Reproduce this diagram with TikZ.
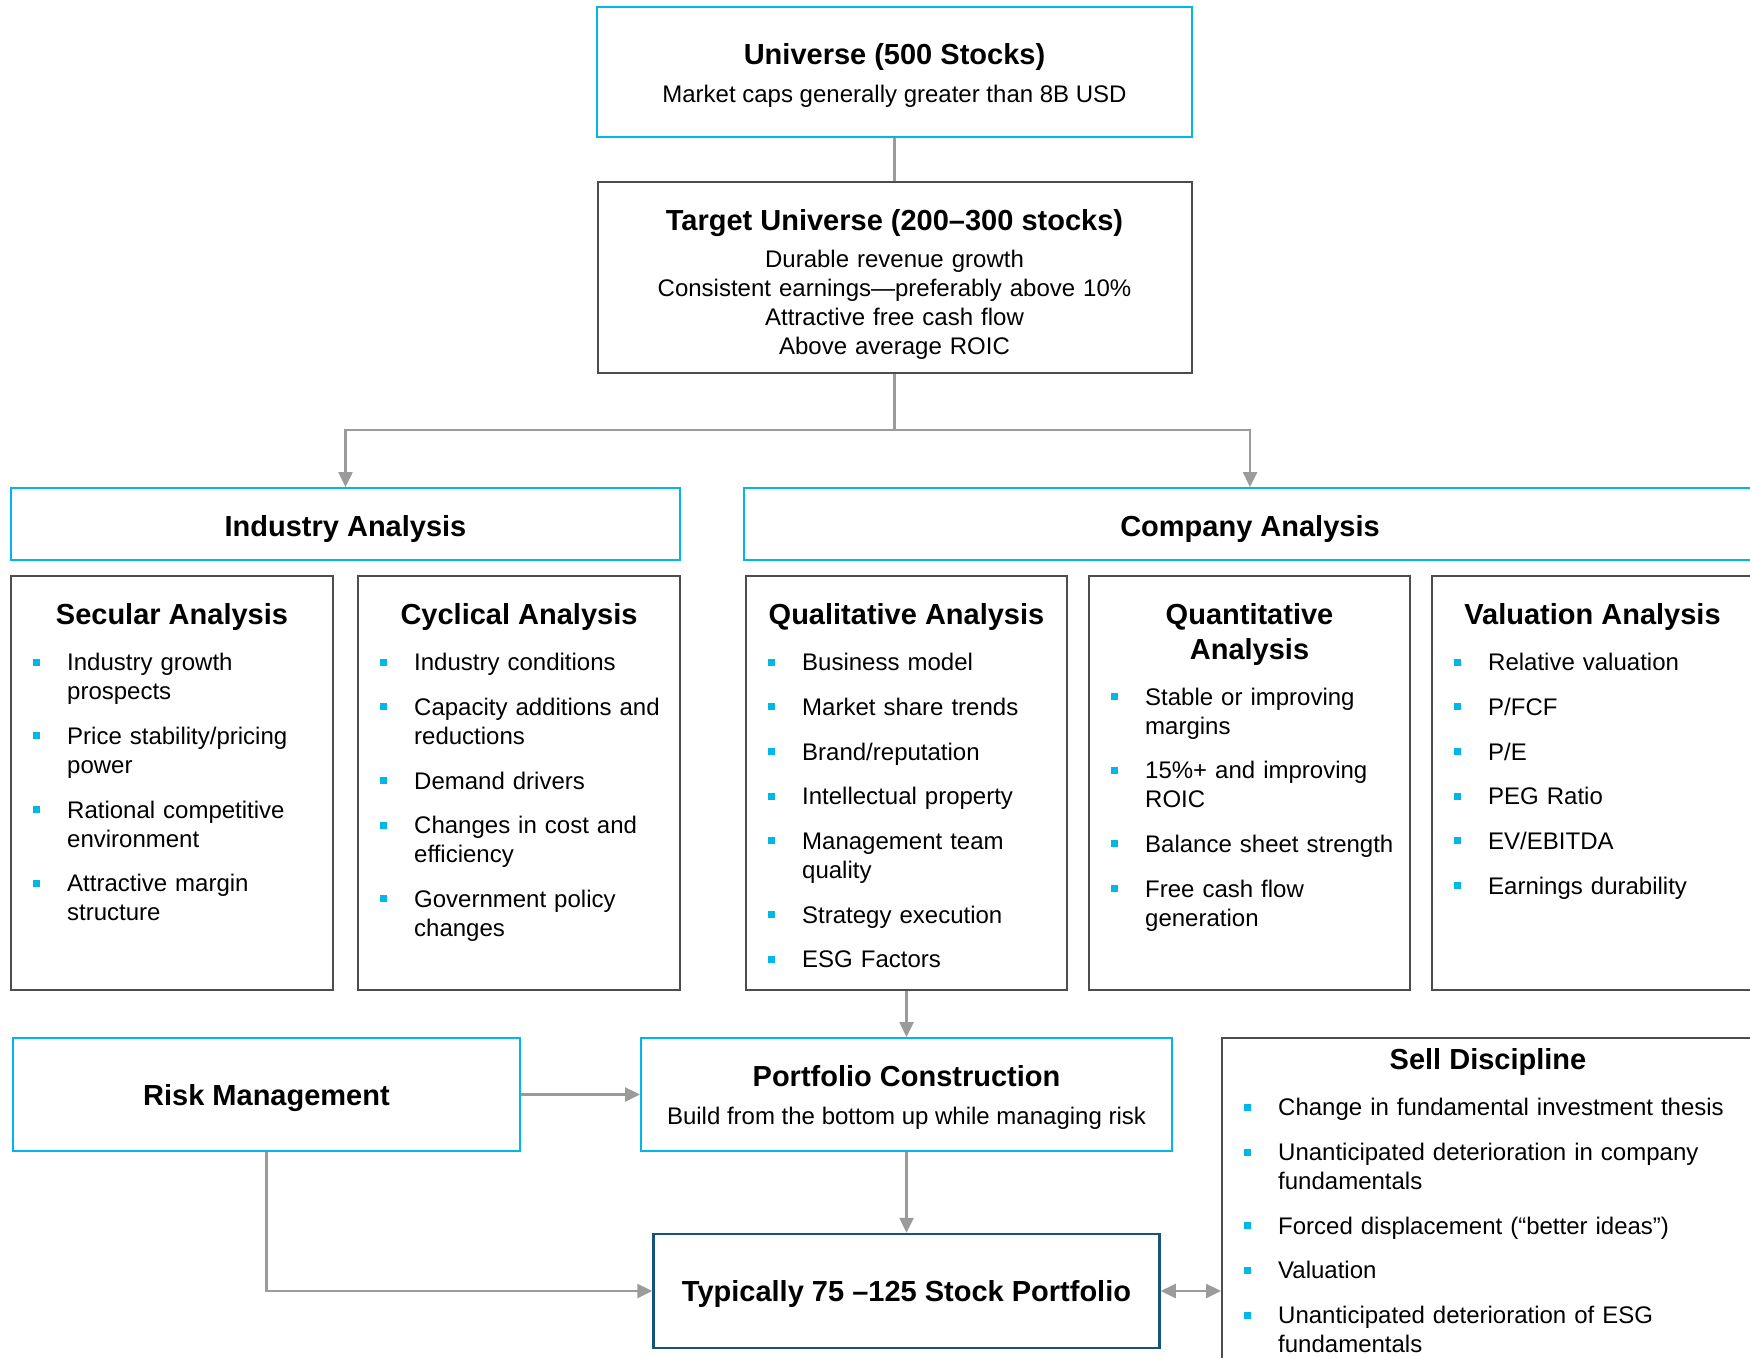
\documentclass[tikz,border=0pt]{standalone}
\usepackage{fontspec}
\setmainfont{Liberation Sans}
\usetikzlibrary{arrows.meta}
\definecolor{bcyan}{RGB}{0,184,228}
\definecolor{bdark}{RGB}{77,77,77}
\definecolor{bblue}{RGB}{22,84,124}
\definecolor{cgray}{RGB}{155,155,155}
\newcommand{\bitem}[1]{\noindent\hangindent=34.5pt\hangafter=1\makebox[34.5pt][l]{\textcolor{bcyan}{\rule[5pt]{7pt}{7pt}}}#1\par}
\tikzset{
  cbox/.style={draw=bcyan, line width=2pt, inner sep=0pt},
  dbox/.style={draw=bdark, line width=2pt, inner sep=0pt},
  hd/.style={font=\fontsize{29}{34.6}\selectfont\bfseries, inner sep=0pt, anchor=base},
  tx/.style={font=\fontsize{24}{29}\selectfont, inner sep=0pt, anchor=base},
  lst/.style={font=\fontsize{24}{29}\selectfont, inner sep=0pt, anchor=base west, text width=#1},
  conn/.style={draw=cgray, line width=2.5pt},
  arr/.style={conn, -{Triangle[length=15pt,width=14pt]}},
  darr/.style={conn, {Triangle[length=15pt,width=14pt]}-{Triangle[length=15pt,width=14pt]}},
}
\begin{document}
\begin{tikzpicture}[x=1pt,y=-1pt]
\clip (0,0) rectangle (1750,1357);
\fill[white] (0,0) rectangle (1750,1357);
% boxes
\node[cbox, minimum width=595pt, minimum height=130pt] (uni) at (894.5,72) {};
\node[dbox, minimum width=594pt, minimum height=191pt] (tgt) at (894.5,277.5) {};
\node[cbox, minimum width=669pt, minimum height=72pt] (ind) at (345.5,524) {};
\node[cbox, minimum width=1012pt, minimum height=72pt] (comp) at (1250,524) {};
\node[dbox, minimum width=322pt, minimum height=414pt] (sec) at (172,783) {};
\node[dbox, minimum width=322pt, minimum height=414pt] (cyc) at (519,783) {};
\node[dbox, minimum width=321pt, minimum height=414pt] (qual) at (906.5,783) {};
\node[dbox, minimum width=321pt, minimum height=414pt] (quant) at (1249.5,783) {};
\node[dbox, minimum width=322pt, minimum height=414pt] (val) at (1592.5,783) {};
\node[cbox, minimum width=507pt, minimum height=113pt] (risk) at (266.5,1094.5) {};
\node[cbox, minimum width=531pt, minimum height=113pt] (pc) at (906.5,1094.5) {};
\node[dbox, minimum width=532pt, minimum height=382pt] (sell) at (1488,1229) {};
\node[draw=bblue, line width=2.5pt, inner sep=0pt, minimum width=506pt, minimum height=114pt] (typ) at (906.5,1291) {};
% texts
\node[hd] (unit) at (894.5,64) {Universe (500 Stocks)};
\node[tx] (unis) at (894.5,102.3) {Market caps generally greater than 8B USD};
\node[hd] (tgtt) at (894.5,230.3) {Target Universe (200--300 stocks)};
\node[tx, text width=590pt, align=center] (tgts) at (894.5,267.6) {Durable revenue growth\\Consistent earnings---preferably above 10\%\\Attractive free cash flow\\Above average ROIC};
\node[hd] (indt) at (345.5,536) {Industry Analysis};
\node[hd] (compt) at (1250,536) {Company Analysis};
\node[hd] (sect) at (172,624.4) {Secular Analysis};
\node[hd] (cyct) at (519,624.4) {Cyclical Analysis};
\node[hd] (qualt) at (906.5,624.4) {Qualitative Analysis};
\node[hd, text width=300pt, align=center] (quantt) at (1249.5,624.4) {Quantitative\\Analysis};
\node[hd] (valt) at (1592.5,624.4) {Valuation Analysis};
\node[lst=295pt] (secl) at (32.5,670.6) {\raggedright\setlength{\parskip}{15.7pt}%
\bitem{Industry growth prospects}\bitem{Price stability/pricing power}\bitem{Rational competitive environment}\bitem{Attractive margin structure}};
\node[lst=295pt] (cycl) at (379.5,670.6) {\raggedright\setlength{\parskip}{15.7pt}%
\bitem{Industry conditions}\bitem{Capacity additions and reductions}\bitem{Demand drivers}\bitem{Changes in cost and efficiency}\bitem{Government policy changes}};
\node[lst=295pt] (quall) at (767.5,670.6) {\raggedright\setlength{\parskip}{15.7pt}%
\bitem{Business model}\bitem{Market share trends}\bitem{Brand/reputation}\bitem{Intellectual property}\bitem{Management team quality}\bitem{Strategy execution}\bitem{ESG Factors}};
\node[lst=295pt] (quantl) at (1110.5,705) {\raggedright\setlength{\parskip}{15.7pt}%
\bitem{Stable or improving margins}\bitem{15\%+ and improving ROIC}\bitem{Balance sheet strength}\bitem{Free cash flow generation}};
\node[lst=295pt] (vall) at (1453.5,670.6) {\raggedright\setlength{\parskip}{15.7pt}%
\bitem{Relative valuation}\bitem{P/FCF}\bitem{P/E}\bitem{PEG Ratio}\bitem{EV/EBITDA}\bitem{Earnings durability}};
\node[hd] (riskt) at (266.5,1105.4) {Risk Management};
\node[hd] (pct) at (906.5,1086.3) {Portfolio Construction};
\node[tx] (pcs) at (906.5,1124.6) {Build from the bottom up while managing risk};
\node[hd] (typt) at (906.5,1301.4) {Typically 75 --125 Stock Portfolio};
\node[hd] (sellt) at (1488,1069.6) {Sell Discipline};
\node[lst=489.5pt] (selll) at (1243.5,1115.8) {\raggedright\setlength{\parskip}{15.7pt}%
\bitem{Change in fundamental investment thesis}\bitem{Unanticipated deterioration in company fundamentals}\bitem{Forced displacement (“better ideas”)}\bitem{Valuation}\bitem{Unanticipated deterioration of ESG fundamentals}};
% connectors
\coordinate (br) at (894.5,430);
\draw[conn] (uni.south) -- (tgt.north);
\draw[conn] (tgt.south) -- (br);
\draw[arr] (br) -| (ind.north);
\draw[arr] (br) -| (comp.north);
\draw[arr] (qual.south) -- (pc.north);
\draw[arr] (pc.south) -- (typ.north);
\draw[arr] (risk.east) -- (pc.west);
\draw[arr] (risk.south) |- (typ.west);
\draw[darr] (typ.east) -- (typ.east -| sell.west);
\end{tikzpicture}
\end{document}
